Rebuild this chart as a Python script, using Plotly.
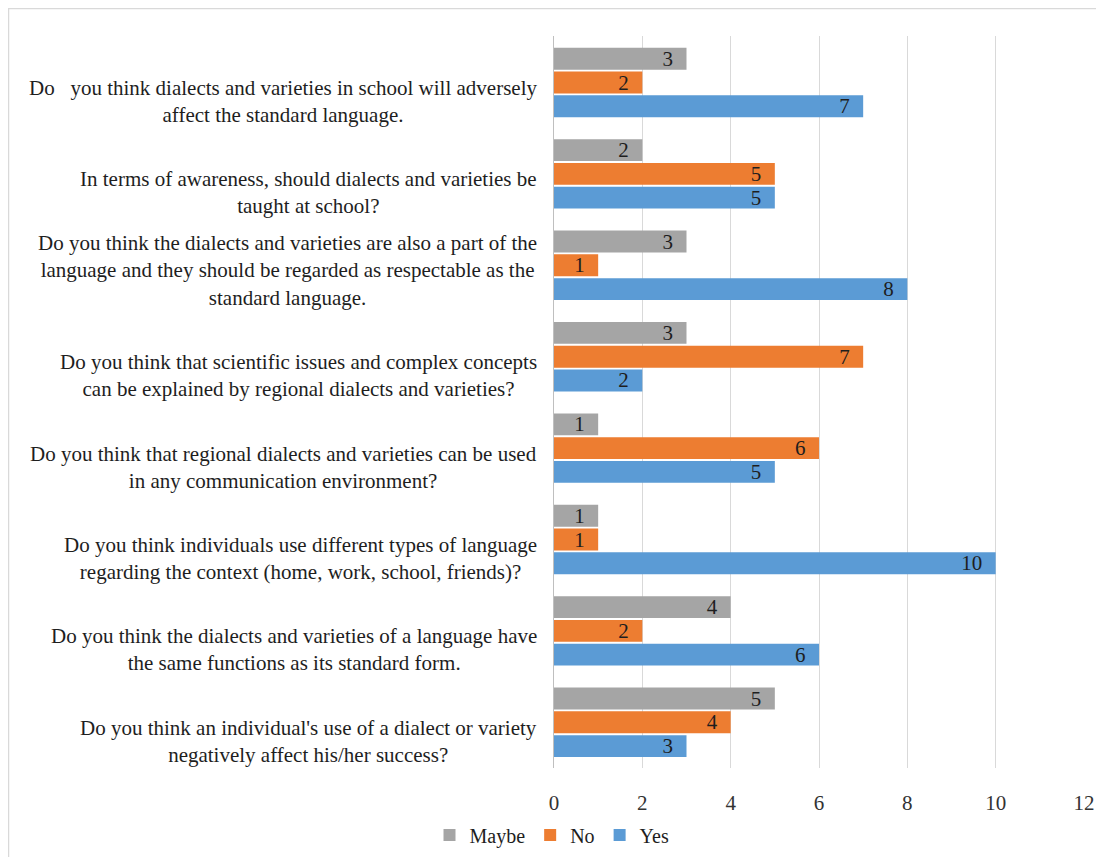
import plotly.graph_objects as go

label_lines = [
    ["Do   you think dialects and varieties in school will adversely", "affect the standard language."],
    ["In terms of awareness, should dialects and varieties be", "taught at school?"],
    ["Do you think the dialects and varieties are also a part of the",
     "language and they should be regarded as respectable as the", "standard language."],
    ["Do you think that scientific issues and complex concepts",
     "can be explained by regional dialects and varieties?"],
    ["Do you think that regional dialects and varieties can be used", "in any communication environment?"],
    ["Do you think individuals use different types of language",
     "regarding the context (home, work, school, friends)?"],
    ["Do you think the dialects and varieties of a language have", "the same functions as its standard form."],
    ["Do you think an individual's use of a dialect or variety", "negatively affect his/her success?"],
]
categories = [" ".join(l) for l in label_lines]
maybe = [3, 2, 3, 3, 1, 1, 4, 5]
no = [2, 5, 1, 7, 6, 1, 2, 4]
yes = [7, 5, 8, 2, 5, 10, 6, 3]
x_ticks = [0, 2, 4, 6, 8, 10, 12]

FONT = "Liberation Serif, Times New Roman, serif"
TXT = "#1e1e1e"
LABEL_FS = 21

W, H = 1088, 849
ML, MR, MT, MB = 546, 12, 28, 89
PW, PH = W - ML - MR, H - MT - MB

fig = go.Figure()
for name, vals, color in [("Maybe", maybe, "#A5A5A5"), ("No", no, "#ED7D31"), ("Yes", yes, "#5B9BD5")]:
    fig.add_trace(go.Bar(
        y=categories, x=vals, name=name, orientation="h",
        marker=dict(color=color, line=dict(width=0)),
        texttemplate="%{x}\u00a0\u00a0", textposition="inside", insidetextanchor="end", textangle=0,
        textfont=dict(family=FONT, size=21, color=TXT),
        cliponaxis=False,
    ))

# category labels: block right-aligned next to the axis, lines centred within block
for c, lines in zip(categories, label_lines):
    n = len(lines)
    fig.add_annotation(
        x=0, xref="paper", y=c, yref="y",
        text="<br>".join(lines), showarrow=False, xanchor="right", yanchor="middle",
        align="center", xshift=-15, yshift=(-19 if n == 2 else -5),
        font=dict(family=FONT, size=LABEL_FS, color=TXT),
    )

# light frame around the chart area
fig.add_shape(type="rect", xref="paper", yref="paper",
              x0=-(ML - 0.5) / PW, x1=1.3, y0=-0.3, y1=1 + (MT - 0.5) / PH,
              line=dict(color="#D9D9D9", width=1.5), fillcolor="rgba(0,0,0,0)", layer="below")

fig.update_layout(
    width=W, height=H,
    margin=dict(l=ML, r=MR, t=MT, b=MB),
    barmode="group", bargap=0.22, bargroupgap=0.08,
    plot_bgcolor="white", paper_bgcolor="white",
    font=dict(family=FONT, size=19, color=TXT),
    uniformtext=dict(minsize=21, mode="show"),
    xaxis=dict(range=[0, 12], tickvals=x_ticks, showgrid=True, gridcolor="#D9D9D9", gridwidth=1,
               zeroline=False, showline=False, ticks="", ticklabelstandoff=20, automargin=False,
               tickfont=dict(family=FONT, size=21, color="#333333")),
    yaxis=dict(autorange="reversed", showticklabels=False, showline=True, linecolor="#BFBFBF",
               linewidth=1, ticks="", showgrid=False),
    legend=dict(orientation="h", xref="container", x=0.5, xanchor="center",
                yref="container", y=0.026, yanchor="middle",
                font=dict(family=FONT, size=20, color=TXT), itemwidth=30, traceorder="normal"),
    showlegend=True,
)

fig.write_html("out.html")
